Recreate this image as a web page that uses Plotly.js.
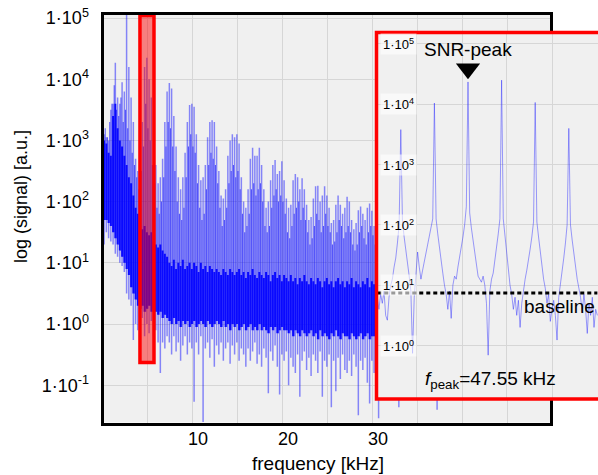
<!DOCTYPE html>
<html><head><meta charset="utf-8">
<script src="https://cdn.plot.ly/plotly-3.0.1.min.js"></script>
<style>html,body{margin:0;padding:0;background:#fff}#chart{width:598px;height:475px}</style>
</head><body><div id="chart"></div>
<script>
// ---------- main spectrum: FFT bins (0.25 kHz), log10 values ----------
const binStartKHz = 0.125, binWidthKHz = 0.25;
const spikeTopLog = [
3.1,3.05,3.0,3.5,3.6,4.27,3.7,3.6,3.95,3.8,
5.3,4.2,3.7,3.3,2.7,2.5,2.9,3.3,4.2,4.35,
4.0,3.7,3.4,2.6,2.3,2.4,2.7,3.3,3.8,3.94,
3.85,3.4,2.9,2.4,2.2,2.4,2.8,3.3,3.58,3.6,
3.55,3.1,2.6,2.35,2.4,2.6,3.05,3.3,3.33,3.3,
2.9,2.5,2.1,2.05,2.2,2.75,3.0,3.1,3.05,3.1,
2.95,2.4,2.0,1.9,2.2,2.7,2.88,2.75,2.75,2.88,
2.6,2.2,1.9,2.0,2.35,2.6,2.68,2.45,2.5,2.66,
2.35,2.05,1.9,1.95,2.35,2.45,2.4,2.2,2.38,2.2,
1.95,1.7,1.75,2.05,2.25,2.26,2.0,2.1,2.25,2.1,
1.9,1.65,1.7,1.95,2.1,1.95,1.8,1.9,2.08,2.0,
1.7,1.55,1.65,1.86,1.92,1.8,1.7,1.9,1.97,1.85,
1.6,1.5,1.7,1.8,1.75,1.6,1.5,1.7,1.8,1.7,
1.5,1.45,1.6,1.75,1.7,1.55,1.45,1.6,1.7,1.65,
1.5,1.4,1.55,1.7,1.65,1.5,1.4,1.55,1.65,1.6,
1.45,1.4,1.5,1.65,1.6,1.45,1.35,1.5,1.6,1.55,
1.4,1.35,1.5,1.6,1.55,1.4,1.35,1.45,1.55,1.5,
1.4,1.3,1.45,1.55,1.5,1.4,1.3,1.45,1.55,1.5,
1.35,1.3,1.4,1.5,1.45,1.35,1.3,1.4,1.5,1.45,
1.35,1.25,1.4,1.5,1.45,1.3,1.25,1.4,1.45,1.4];
const spikeBottomLog = [
1.3,1.5,1.4,1.35,1.3,1.15,1.1,1.0,0.95,0.85,
0.5,0.4,0.3,-0.26,0.0,-0.1,-0.2,0.1,-0.2,0.0,
-0.15,0.05,-0.2,-0.1,-0.3,-0.8,-0.3,-0.4,-0.2,-0.3,
-0.5,-0.2,-0.45,-0.3,-0.6,-0.35,-0.2,-0.5,-0.3,-0.4,
-1.27,-0.3,-0.5,-0.2,-1.6,-0.4,-0.3,-0.55,-0.25,-0.7,
-0.35,-0.5,-0.3,-0.6,-0.4,-0.3,-0.65,-0.35,-0.5,-0.3,
-0.6,-0.4,-0.5,-0.7,-0.4,-0.6,-0.45,-0.3,-0.65,-0.5,
-0.7,-0.4,-0.55,-1.13,-0.45,-0.6,-0.35,-0.7,-1.15,-0.5,
-0.6,-0.45,-1.0,-0.55,-0.7,-0.8,-0.5,-1.19,-0.6,-0.45,
-0.75,-0.55,-0.85,-0.5,-0.6,-0.8,-0.45,-1.19,-0.6,-0.7,
-0.5,-1.36,-0.6,-1.1,-0.55,-0.9,-0.5,-0.75,-0.8,-0.6,
-0.85,-0.5,-0.7,-1.49,-0.6,-0.75,-0.55,-0.96,-1.3,-0.6,
-0.8,-0.6,-1.54,-0.7,-0.5,-0.8,-0.6,-0.75,-0.5,-0.9,
-0.6,-1.36,-0.7,-0.5,-0.8,-0.6,-0.9,-0.55,-0.7,-0.8,
-0.6,-0.75,-0.5,-0.9,-0.6,-0.8,-0.55,-0.7,-1.4,-0.6,
-0.8,-0.5,-0.7,-0.9,-0.6,-0.75,-0.55,-0.85,-0.6,-0.7,
-0.5,-0.8,-0.65,-0.9,-0.6,-0.7,-0.55,-0.85,-0.6,-0.75,
-0.5,-0.8,-0.6,-0.9,-0.65,-0.7,-0.55,-0.8,-0.6,-0.75,
-0.6,-0.85,-0.55,-0.7,-0.9,-0.6,-0.75,-0.5,-0.8,-0.65,
-0.7,-0.9,-0.6,-0.75,-0.55,-0.8,-0.65,-0.7,-0.9,-0.6];
// denser, darker lines between the bins (top of each, log10)
const midTopLog = [
3.2,3.05,3.3,3.6,3.9,3.5,3.4,3.7,3.3,3.5,
3.2,3.0,2.8,2.6,2.4,2.2,2.5,2.9,3.6,3.2,
3.0,2.6,2.3,1.9,1.8,2.0,2.4,2.9,3.3,3.2,
2.9,2.5,2.0,1.8,1.7,1.9,2.4,2.9,3.1,2.9,
2.8,2.3,1.9,1.7,1.8,2.2,2.6,2.8,2.7,2.6,
2.3,1.9,1.6,1.7,1.9,2.3,2.5,2.6,2.4,2.5,
2.2,1.8,1.5,1.6,1.8,2.2,2.3,2.1,2.2,2.3,
2.0,1.6,1.5,1.6,1.9,2.1,2.2,2.0,2.1,2.0,
1.8,1.5,1.4,1.6,1.8,1.9,2.0,1.7,1.9,1.7,
1.5,1.3,1.4,1.6,1.8,1.7,1.5,1.6,1.8,1.6,
1.5,1.3,1.35,1.5,1.7,1.6,1.4,1.5,1.6,1.5,
1.3,1.2,1.3,1.5,1.6,1.4,1.3,1.5,1.6,1.45,
1.3,1.2,1.35,1.45,1.3,1.2,1.35,1.4,1.3,1.2,
1.3,1.4,1.25,1.2,1.35,1.4,1.3,1.2,1.3,1.35,
1.2,1.15,1.3,1.35,1.25,1.15,1.3,1.35,1.2,1.15,
1.25,1.3,1.2,1.1,1.25,1.3,1.2,1.1,1.25,1.2,
1.1,1.2,1.25,1.15,1.1,1.2,1.25,1.15,1.05,1.2,
1.15,1.1,1.2,1.25,1.1,1.05,1.2,1.15,1.1,1.05,
1.15,1.2,1.1,1.05,1.15,1.2,1.1,1.0,1.15,1.1,
1.05,1.1,1.15,1.0,1.1,1.15,1.05,1.0,1.1,1.05];
const coreTopLog = [
3.0,2.95,2.8,2.75,3.4,3.6,3.2,3.0,2.9,2.75,
2.6,2.4,2.3,2.1,1.9,1.8,1.7,1.55,1.6,1.5,
1.45,1.5,1.35,1.3,1.25,1.3,1.2,1.15,1.1,1.0,
0.95,1.05,0.9,1.0,0.95,1.05,0.9,0.95,1.0,0.9,
1.0,0.95,0.85,1.0,0.9,0.95,0.85,0.95,0.9,0.85,
0.9,0.85,0.8,0.9,0.85,0.8,0.9,0.85,0.8,0.85,
0.9,0.8,0.85,0.75,0.85,0.8,0.9,0.8,0.75,0.85,
0.8,0.75,0.85,0.8,0.7,0.8,0.85,0.75,0.8,0.7,
0.8,0.75,0.7,0.8,0.7,0.75,0.65,0.75,0.7,0.8,
0.7,0.65,0.75,0.7,0.65,0.75,0.7,0.6,0.7,0.75,
0.65,0.7,0.6,0.7,0.75,0.65,0.7,0.6,0.7,0.65,
0.75,0.6,0.7,0.65,0.6,0.7,0.65,0.75,0.6,0.7,
0.65,0.6,0.7,0.65,0.6,0.7,0.6,0.65,0.7,0.6,
0.65,0.6,0.55,0.65,0.6,0.7,0.6,0.55,0.65,0.6,
0.6,0.55,0.65,0.6,0.55,0.65,0.6,0.5,0.6,0.55,
0.6,0.55,0.5,0.6,0.55,0.6,0.5,0.55,0.6,0.5,
0.55,0.6,0.5,0.55,0.5,0.6,0.55,0.5,0.55,0.5,
0.55,0.5,0.45,0.55,0.5,0.55,0.45,0.5,0.55,0.5,
0.5,0.45,0.55,0.5,0.45,0.5,0.55,0.45,0.5,0.45,
0.5,0.45,0.5,0.4,0.5,0.45,0.5,0.4,0.45,0.5];
const coreBottomLog = [
1.7,1.7,1.65,1.6,1.5,1.4,1.3,1.2,1.1,1.0,
0.9,0.8,0.6,0.5,0.4,0.3,0.25,0.3,0.2,0.25,
0.3,0.2,0.25,0.2,0.15,0.2,0.1,0.15,0.1,0.05,
0.0,0.1,0.0,0.05,-0.05,0.05,0.0,0.05,-0.05,0.0,
0.05,-0.05,0.0,0.05,0.0,-0.05,0.05,0.0,-0.05,0.0,
0.05,0.0,-0.05,0.05,-0.05,0.0,-0.1,0.0,-0.05,0.0,
-0.1,-0.05,0.0,-0.1,-0.05,0.0,-0.1,-0.05,-0.1,0.0,
-0.1,-0.05,-0.1,-0.15,-0.05,-0.1,-0.05,-0.15,-0.1,-0.05,
-0.1,-0.1,-0.15,-0.1,-0.2,-0.1,-0.15,-0.2,-0.1,-0.15,
-0.2,-0.15,-0.1,-0.2,-0.15,-0.25,-0.1,-0.2,-0.15,-0.2,
-0.25,-0.15,-0.2,-0.1,-0.2,-0.25,-0.15,-0.2,-0.2,-0.25,
-0.15,-0.2,-0.25,-0.2,-0.15,-0.25,-0.2,-0.15,-0.25,-0.2,
-0.2,-0.25,-0.2,-0.15,-0.25,-0.2,-0.3,-0.2,-0.25,-0.2,
-0.25,-0.3,-0.2,-0.25,-0.3,-0.2,-0.25,-0.3,-0.2,-0.25,
-0.3,-0.25,-0.2,-0.3,-0.25,-0.3,-0.2,-0.25,-0.3,-0.25,
-0.3,-0.25,-0.35,-0.25,-0.3,-0.2,-0.3,-0.35,-0.25,-0.3,
-0.25,-0.3,-0.35,-0.3,-0.25,-0.35,-0.3,-0.25,-0.35,-0.3,
-0.3,-0.35,-0.25,-0.3,-0.35,-0.3,-0.25,-0.35,-0.3,-0.35,
-0.3,-0.35,-0.3,-0.4,-0.3,-0.35,-0.3,-0.35,-0.4,-0.3,
-0.35,-0.3,-0.4,-0.35,-0.3,-0.35,-0.4,-0.3,-0.35,-0.4];
const highlightKHz = [4.11, 5.67];
const highlightLog = [-0.63, 5.04];
const mainTickExp = [-1, 0, 1, 2, 3, 4, 5];
const xTickVals = [10, 20, 30];

// ---------- inset: zoom around the SNR peak ----------
const insetStartKHz = 47.01, insetStepKHz = 0.01;
const insetLog = [
0.8,0.6,0.85,0.7,0.9,0.5,0.42,0.8,1.0,1.1,
1.3,1.45,1.7,2.0,3.58,2.05,1.8,1.6,1.35,1.15,
0.9,-0.13,0.8,1.2,1.55,1.3,1.1,1.25,1.4,1.5,
1.65,1.8,1.95,2.1,4.02,2.1,1.85,1.6,1.4,1.2,
1.0,0.85,0.6,0.9,0.45,1.0,1.15,1.1,1.3,1.45,
1.6,1.8,2.0,2.3,4.37,2.2,1.95,1.75,1.5,1.3,
1.15,1.1,1.05,1.15,1.0,0.7,-0.16,0.9,1.1,1.2,
1.4,1.6,1.85,2.1,4.4,2.1,1.8,1.5,1.25,1.0,
0.85,0.6,0.8,0.5,0.75,0.3,0.7,0.95,1.1,1.25,
1.4,1.6,1.8,2.05,4.03,2.05,1.8,1.55,1.3,1.1,
0.95,0.7,0.85,0.4,0.6,0.75,0.5,0.09,0.8,1.0,
1.25,1.45,1.7,2.0,3.6,2.0,1.75,1.5,1.3,1.1,
0.95,0.8,0.55,0.85,0.6,0.2,0.7,0.5,0.8,0.3,
0.6,0.5];
const peakKHz = 47.55;
const peakMarkerLog = 4.59;
const baselineLog = 0.87;
const insetTickExp = [0, 1, 2, 3, 4, 5];
const insetGridKHz = [47.2464, 47.5143, 47.7821, 48.05];

const FONT = 'Liberation Sans, Arial, Helvetica, sans-serif';
const W = 598, H = 475;
const px = v => v / W, py = v => 1 - v / H;
const p10 = v => Math.pow(10, v);

function vsegs(tops, bots, offset) {
  const x = [], y = [];
  for (let i = 0; i < tops.length; i++) {
    const f = binStartKHz + i * binWidthKHz + offset;
    x.push(f, f, null);
    y.push(p10(bots[i]), p10(tops[i]), null);
  }
  return {x, y};
}
const light = vsegs(spikeTopLog, spikeBottomLog, 0);
const mid = vsegs(midTopLog, coreBottomLog, binWidthKHz / 2);
const core = vsegs(coreTopLog, coreBottomLog, 0);
const insetX = insetLog.map((_, k) => insetStartKHz + k * insetStepKHz);
const insetY = insetLog.map(p10);
const insetEnd = insetX[insetX.length - 1];

const traces = [
  {x: light.x, y: light.y, mode: 'lines', line: {color: 'rgba(0,0,255,0.45)', width: 1.5}, xaxis: 'x', yaxis: 'y', hoverinfo: 'skip'},
  {x: mid.x, y: mid.y, mode: 'lines', line: {color: 'rgba(0,0,255,0.6)', width: 1.1}, xaxis: 'x', yaxis: 'y', hoverinfo: 'skip'},
  {x: core.x, y: core.y, mode: 'lines', line: {color: 'rgba(0,0,255,0.92)', width: 2.0}, xaxis: 'x', yaxis: 'y', hoverinfo: 'skip'},
  {x: insetX, y: insetY, mode: 'lines', line: {color: 'rgba(40,40,255,0.5)', width: 0.9}, xaxis: 'x2', yaxis: 'y2', hoverinfo: 'skip'},
  {x: [insetStartKHz, insetEnd], y: [p10(baselineLog), p10(baselineLog)], mode: 'lines',
   line: {color: 'black', width: 3, dash: '4px,3px'}, xaxis: 'x2', yaxis: 'y2', hoverinfo: 'skip'},
  {x: [peakKHz], y: [p10(peakMarkerLog)], mode: 'markers', marker: {symbol: 'triangle-down', size: 21, color: 'black'},
   xaxis: 'x2', yaxis: 'y2', hoverinfo: 'skip'}
];

const gridC = '#d6d6d6';
const annotations = [
  {text: 'log (signal) [a.u.]', xref: 'paper', yref: 'paper', x: px(21), y: py(197), textangle: -90,
   showarrow: false, xanchor: 'center', yanchor: 'middle', font: {family: FONT, size: 18, color: 'black'}},
  {text: 'frequency [kHz]', xref: 'paper', yref: 'paper', x: px(318), y: py(463), showarrow: false,
   xanchor: 'center', yanchor: 'middle', font: {family: FONT, size: 19, color: 'black'}},
  {text: 'SNR-peak', xref: 'x2', yref: 'y2', x: peakKHz, y: 4.9, showarrow: false,
   xanchor: 'center', yanchor: 'middle', font: {family: FONT, size: 19, color: 'black'}},
  {text: 'baseline', xref: 'x2', yref: 'y2', x: 48.092, y: 0.64, showarrow: false,
   xanchor: 'center', yanchor: 'middle', font: {family: FONT, size: 19, color: 'black'}},
  {text: '<i>f</i><sub>peak</sub>=47.55 kHz', xref: 'x2', yref: 'y2', x: 47.681, y: -0.572, showarrow: false,
   xanchor: 'center', yanchor: 'middle', font: {family: FONT, size: 19, color: 'black'}}
];
insetTickExp.forEach(e => annotations.push({
  text: '1·10<sup>' + e + '</sup>', xref: 'x2 domain', yref: 'y2', x: 0, y: e, xanchor: 'left', xshift: 3,
  yanchor: 'middle', showarrow: false, bgcolor: 'rgba(255,255,255,0.6)', borderpad: 2,
  font: {family: FONT, size: 13, color: 'black'}
}));

const layout = {
  width: W, height: H, margin: {l: 0, r: 0, t: 0, b: 0},
  paper_bgcolor: 'white', plot_bgcolor: '#f0f0f0', showlegend: false,
  font: {family: FONT, color: 'black'},
  xaxis: {domain: [px(103.5), px(550)], range: [0.06, 49.67], anchor: 'y',
    tickmode: 'array', tickvals: xTickVals, ticktext: xTickVals.map(String), ticks: '',
    tickfont: {size: 18, family: FONT, color: 'black'}, ticklabelshift: 5, ticklabelstandoff: -2,
    showgrid: true, gridcolor: gridC, gridwidth: 1,
    minor: {dtick: 5, tick0: 0, showgrid: true, gridcolor: gridC, gridwidth: 1, ticks: ''},
    showline: true, mirror: true, linecolor: 'black', linewidth: 3, zeroline: false},
  yaxis: {domain: [py(422.5), py(15)], type: 'log', range: [-1.609, 5.049], anchor: 'x',
    tickmode: 'array', tickvals: mainTickExp.map(p10),
    ticktext: mainTickExp.map(e => '1·10<sup>' + e + '</sup>'), ticks: '',
    tickfont: {size: 18, family: FONT, color: 'black'}, ticklabelstandoff: 8,
    showgrid: true, gridcolor: gridC, gridwidth: 1,
    showline: true, mirror: true, linecolor: 'black', linewidth: 3, zeroline: false},
  xaxis2: {domain: [px(376.5), 1], range: [47.0054, 48.3238], anchor: 'y2',
    tickmode: 'array', tickvals: insetGridKHz, showticklabels: false, ticks: '',
    showgrid: true, gridcolor: gridC, showline: false, zeroline: false},
  yaxis2: {domain: [py(399), py(32.5)], type: 'log', range: [-0.887, 5.19], anchor: 'x2',
    tickmode: 'array', tickvals: insetTickExp.map(p10), showticklabels: false, ticks: '',
    showgrid: true, gridcolor: gridC, showline: false, zeroline: false},
  shapes: [
    {type: 'rect', xref: 'x', yref: 'y', x0: highlightKHz[0], x1: highlightKHz[1], y0: p10(highlightLog[0]), y1: p10(highlightLog[1]),
     fillcolor: 'rgba(255,0,0,0.47)', line: {color: 'rgb(255,0,0)', width: 3.5}, layer: 'above'},
    {type: 'rect', xref: 'paper', yref: 'paper', x0: px(376.5), x1: 1.03, y0: py(399), y1: py(32.5),
     fillcolor: 'rgba(0,0,0,0)', line: {color: 'rgb(255,0,0)', width: 3.5}, layer: 'above'}
  ],
  annotations: annotations
};

Plotly.newPlot('chart', traces, layout, {staticPlot: true, displayModeBar: false});
</script>
</body></html>
